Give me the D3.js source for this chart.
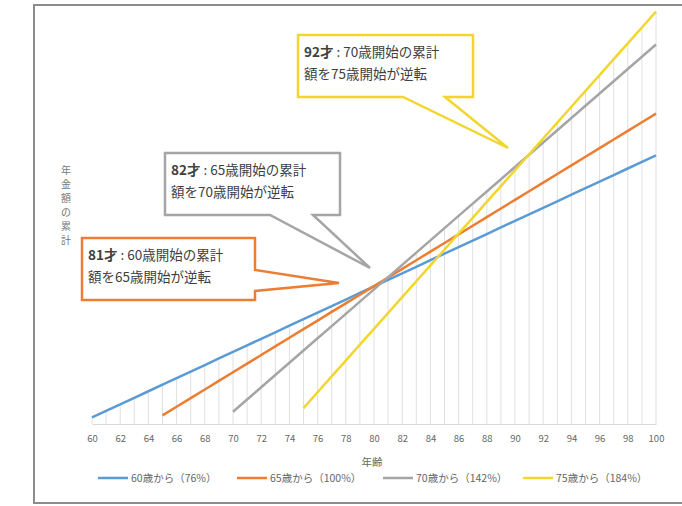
<!DOCTYPE html>
<html>
<head>
<meta charset="utf-8">
<style>
    body { margin: 0; background: #fff; }
    svg text { font-family: "Noto Sans CJK JP", "Noto Sans", sans-serif; }
    .tick text { fill: #666; font-size: 9.5px; }
    .legend text { fill: #666; font-size: 10.5px; }
    .callout text { fill: #404040; font-size: 13.5px; }
</style>
</head>
<body>
<div id="target"></div>
<script src="https://cdnjs.cloudflare.com/ajax/libs/d3/7.8.5/d3.min.js"></script>
<script>
    // ages on the x axis
    var ages = d3.range(60, 101);
    var tickAges = d3.range(60, 101, 2);

    // series: start age and payment rate
    var seriesNames = ['60歳から（76%）', '65歳から（100%）', '70歳から（142%）', '75歳から（184%）'];
    var startAges = [60, 65, 70, 75];
    var rates = [0.76, 1.00, 1.42, 1.84];
    var colors = ['#5B9BD5', '#ED7D31', '#A5A5A5', '#F2D62E'];

    // callout texts
    var calloutBold = ['81才', '82才', '92才'];
    var calloutLine1 = [' : 60歳開始の累計', ' : 65歳開始の累計', ' : 70歳開始の累計'];
    var calloutLine2 = ['額を65歳開始が逆転', '額を70歳開始が逆転', '額を75歳開始が逆転'];

    // cumulative amount per series (rate x years received)
    var cumulative = startAges.map(function (s, i) {
        return ages.filter(function (a) { return a >= s; }).map(function (a) {
            return { age: a, value: +(rates[i] * (a - s + 1)).toFixed(2) };
        });
    });

    var svg = d3.select('#target').append('svg')
            .attr('width', 682)
            .attr('height', 506);

    // outer chart frame
    svg.append('rect')
            .attr('x', 34).attr('y', 5)
            .attr('width', 660).attr('height', 498)
            .attr('fill', '#fff')
            .attr('stroke', '#8c8c8c')
            .attr('stroke-width', 2);

    var x = d3.scaleLinear().domain([60, 100]).range([92, 656]);
    var y = d3.scaleLinear().domain([0, 50]).range([424, -7]);

    // drop lines: from axis up to the highest series at each age
    var maxAt = ages.map(function (a) {
        return { age: a, value: d3.max(cumulative, function (c) {
            var p = c.find(function (d) { return d.age === a; });
            return p ? p.value : 0;
        }) };
    });
    svg.append('g').attr('class', 'drops')
            .selectAll('line')
            .data(maxAt)
            .enter()
            .append('line')
            .attr('x1', function (d) { return x(d.age); })
            .attr('x2', function (d) { return x(d.age); })
            .attr('y1', y(0))
            .attr('y2', function (d) { return y(d.value); })
            .attr('stroke', '#e0e0e0')
            .attr('stroke-width', 1);

    // x axis
    var gx = svg.append('g')
            .attr('transform', 'translate(0,' + y(0) + ')')
            .call(d3.axisBottom(x).tickValues(tickAges).tickSize(0).tickPadding(11).tickFormat(d3.format('d')));
    gx.select('.domain').attr('stroke', '#d9d9d9');

    svg.append('text')
            .attr('x', 372).attr('y', 466)
            .attr('text-anchor', 'middle')
            .attr('fill', '#666')
            .attr('font-size', 10.5)
            .text('年齢');

    // y axis title (stacked characters)
    var yTitle = '年金額の累計'.split('');
    svg.append('g').selectAll('text')
            .data(yTitle)
            .enter()
            .append('text')
            .attr('x', 66)
            .attr('y', function (d, i) { return 174 + i * 14; })
            .attr('text-anchor', 'middle')
            .attr('fill', '#777')
            .attr('font-size', 10)
            .text(function (d) { return d; });

    // series lines
    var line = d3.line()
            .x(function (d) { return x(d.age); })
            .y(function (d) { return y(d.value); });

    svg.append('g').attr('class', 'lines')
            .selectAll('path')
            .data(cumulative)
            .enter()
            .append('path')
            .attr('d', line)
            .attr('fill', 'none')
            .attr('stroke', function (d, i) { return colors[i]; })
            .attr('stroke-width', 2.5);

    // callouts: box + pointer
    var callouts = [
        { color: colors[1], x0: 82, y0: 238, x1: 255, y1: 300,
          pointer: [[255, 270], [339, 283], [255, 291]], side: 'right' },
        { color: colors[2], x0: 165, y0: 153, x1: 340, y1: 215,
          pointer: [[313, 215], [370, 268], [270, 215]], side: 'bottom' },
        { color: colors[3], x0: 298, y0: 35, x1: 473, y1: 97,
          pointer: [[445, 97], [508, 148], [403, 97]], side: 'bottom' }
    ];

    var calloutPath = function (c) {
        var p = c.pointer;
        if (c.side === 'right') {
            return 'M' + c.x0 + ',' + c.y0 + 'L' + c.x1 + ',' + c.y0 +
                    'L' + p[0] + 'L' + p[1] + 'L' + p[2] +
                    'L' + c.x1 + ',' + c.y1 + 'L' + c.x0 + ',' + c.y1 + 'Z';
        }
        return 'M' + c.x0 + ',' + c.y0 + 'L' + c.x1 + ',' + c.y0 +
                'L' + c.x1 + ',' + c.y1 + 'L' + p[0] + 'L' + p[1] + 'L' + p[2] +
                'L' + c.x0 + ',' + c.y1 + 'Z';
    };

    var gCall = svg.append('g').attr('class', 'callout')
            .selectAll('g')
            .data(callouts)
            .enter()
            .append('g');

    gCall.append('path')
            .attr('d', calloutPath)
            .attr('fill', '#fff')
            .attr('stroke', function (d) { return d.color; })
            .attr('stroke-width', 2.5)
            .attr('stroke-linejoin', 'miter');

    var t1 = gCall.append('text')
            .attr('x', function (d) { return d.x0 + 6; })
            .attr('y', function (d) { return d.y0 + 22; });
    t1.append('tspan')
            .attr('font-weight', 'bold')
            .text(function (d, i) { return calloutBold[i]; });
    t1.append('tspan')
            .text(function (d, i) { return calloutLine1[i]; });

    gCall.append('text')
            .attr('x', function (d) { return d.x0 + 6; })
            .attr('y', function (d) { return d.y0 + 44; })
            .text(function (d, i) { return calloutLine2[i]; });

    // legend
    var legendX = [98, 237, 383, 523];
    var gLegend = svg.append('g').attr('class', 'legend')
            .selectAll('g')
            .data(seriesNames)
            .enter()
            .append('g')
            .attr('transform', function (d, i) { return 'translate(' + legendX[i] + ',478)'; });
    gLegend.append('line')
            .attr('x1', 0).attr('x2', 30)
            .attr('stroke', function (d, i) { return colors[i]; })
            .attr('stroke-width', 2.5);
    gLegend.append('text')
            .attr('x', 33).attr('y', 3.5)
            .text(function (d) { return d; });
</script>
</body>
</html>
